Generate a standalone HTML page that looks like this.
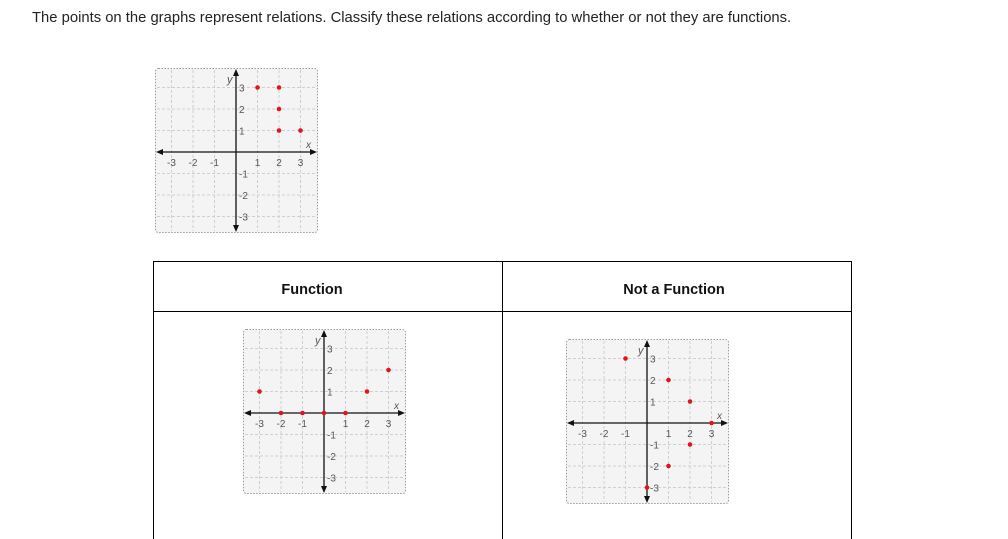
<!DOCTYPE html>
<html><head><meta charset="utf-8"><style>
body{margin:0;width:1008px;height:539px;background:#fff;position:relative;overflow:hidden;font-family:"Liberation Sans",sans-serif}
.t{position:absolute;left:32px;top:10px;font-size:14.8px;color:#222;white-space:nowrap}
svg{position:absolute;left:0;top:0}
</style></head><body>
<div class="t">The points on the graphs represent relations. Classify these relations according to whether or not they are functions.</div>
<svg width="1008" height="539" viewBox="0 0 1008 539">
<defs>
<g id="grid">
<rect x="0.5" y="0.5" width="162" height="164" rx="3" fill="#f4f4f4" stroke="#999" stroke-dasharray="1.5,1.5"/>
<g stroke="#cfcfcf" stroke-dasharray="3,2" stroke-width="1">
<line x1="16.5" y1="2" x2="16.5" y2="163"/><line x1="38" y1="2" x2="38" y2="163"/><line x1="59.5" y1="2" x2="59.5" y2="163"/>
<line x1="102.5" y1="2" x2="102.5" y2="163"/><line x1="124" y1="2" x2="124" y2="163"/><line x1="145.5" y1="2" x2="145.5" y2="163"/>
<line x1="2" y1="19.5" x2="161" y2="19.5"/><line x1="2" y1="41" x2="161" y2="41"/><line x1="2" y1="62.5" x2="161" y2="62.5"/>
<line x1="2" y1="105.5" x2="161" y2="105.5"/><line x1="2" y1="127" x2="161" y2="127"/><line x1="2" y1="148.5" x2="161" y2="148.5"/>
</g>
<g stroke="#111" stroke-width="1.3">
<line x1="4" y1="84" x2="159" y2="84"/><line x1="81" y1="4" x2="81" y2="161"/>
</g>
<g fill="#111">
<polygon points="1,84 8,81 8,87"/><polygon points="162,84 155,81 155,87"/>
<polygon points="81,1 78,8 84,8"/><polygon points="81,164 78,157 84,157"/>
</g>
</g>
</defs>
<g stroke="#000" stroke-width="1" fill="none">
<line x1="153" y1="261.5" x2="852" y2="261.5"/>
<line x1="153" y1="311.5" x2="852" y2="311.5"/>
<line x1="153.5" y1="261" x2="153.5" y2="539"/>
<line x1="502.5" y1="261" x2="502.5" y2="539"/>
<line x1="851.5" y1="261" x2="851.5" y2="539"/>
</g>
<g font-family="Liberation Sans,sans-serif" font-weight="bold" font-size="14.5" fill="#111" text-anchor="middle">
<text x="312" y="294">Function</text>
<text x="674" y="294">Not a Function</text>
</g>

<g transform="translate(155,68)">
<use href="#grid"/>
<g font-size="10" fill="#555" font-family="Liberation Sans,sans-serif">
<text x="16.5" y="98" text-anchor="middle">-3</text><text x="38" y="98" text-anchor="middle">-2</text><text x="59.5" y="98" text-anchor="middle">-1</text>
<text x="102.5" y="98" text-anchor="middle">1</text><text x="124" y="98" text-anchor="middle">2</text><text x="145.5" y="98" text-anchor="middle">3</text>
<text x="84" y="23.5">3</text><text x="84" y="45">2</text><text x="84" y="66.5">1</text>
<text x="84" y="109.5">-1</text><text x="84" y="131">-2</text><text x="84" y="152.5">-3</text>
<text x="151" y="80" font-style="italic">x</text><text x="72" y="15" font-style="italic" font-size="11">y</text>
</g>
<g fill="#e0141a">
<circle cx="102.5" cy="19.5" r="2.3"/><circle cx="124" cy="19.5" r="2.3"/><circle cx="124" cy="41" r="2.3"/><circle cx="124" cy="62.5" r="2.3"/><circle cx="145.5" cy="62.5" r="2.3"/>
</g>
</g>

<g transform="translate(243,329)">
<use href="#grid"/>
<g font-size="10" fill="#555" font-family="Liberation Sans,sans-serif">
<text x="16.5" y="98" text-anchor="middle">-3</text><text x="38" y="98" text-anchor="middle">-2</text><text x="59.5" y="98" text-anchor="middle">-1</text>
<text x="102.5" y="98" text-anchor="middle">1</text><text x="124" y="98" text-anchor="middle">2</text><text x="145.5" y="98" text-anchor="middle">3</text>
<text x="84" y="23.5">3</text><text x="84" y="45">2</text><text x="84" y="66.5">1</text>
<text x="84" y="109.5">-1</text><text x="84" y="131">-2</text><text x="84" y="152.5">-3</text>
<text x="151" y="80" font-style="italic">x</text><text x="72" y="15" font-style="italic" font-size="11">y</text>
</g>
<g fill="#e0141a">
<circle cx="16.5" cy="62.5" r="2.3"/><circle cx="38" cy="84" r="2.3"/><circle cx="59.5" cy="84" r="2.3"/><circle cx="81" cy="84" r="2.3"/><circle cx="102.5" cy="84" r="2.3"/><circle cx="124" cy="62.5" r="2.3"/><circle cx="145.5" cy="41" r="2.3"/>
</g>
</g>

<g transform="translate(566,339)">
<use href="#grid"/>
<g font-size="10" fill="#555" font-family="Liberation Sans,sans-serif">
<text x="16.5" y="98" text-anchor="middle">-3</text><text x="38" y="98" text-anchor="middle">-2</text><text x="59.5" y="98" text-anchor="middle">-1</text>
<text x="102.5" y="98" text-anchor="middle">1</text><text x="124" y="98" text-anchor="middle">2</text><text x="145.5" y="98" text-anchor="middle">3</text>
<text x="84" y="23.5">3</text><text x="84" y="45">2</text><text x="84" y="66.5">1</text>
<text x="84" y="109.5">-1</text><text x="84" y="131">-2</text><text x="84" y="152.5">-3</text>
<text x="151" y="80" font-style="italic">x</text><text x="72" y="15" font-style="italic" font-size="11">y</text>
</g>
<g fill="#e0141a">
<circle cx="59.5" cy="19.5" r="2.3"/><circle cx="102.5" cy="41" r="2.3"/><circle cx="124" cy="62.5" r="2.3"/><circle cx="145.5" cy="84" r="2.3"/><circle cx="124" cy="105.5" r="2.3"/><circle cx="102.5" cy="127" r="2.3"/><circle cx="81" cy="148.5" r="2.3"/>
</g>
</g>
</svg>
</body></html>
